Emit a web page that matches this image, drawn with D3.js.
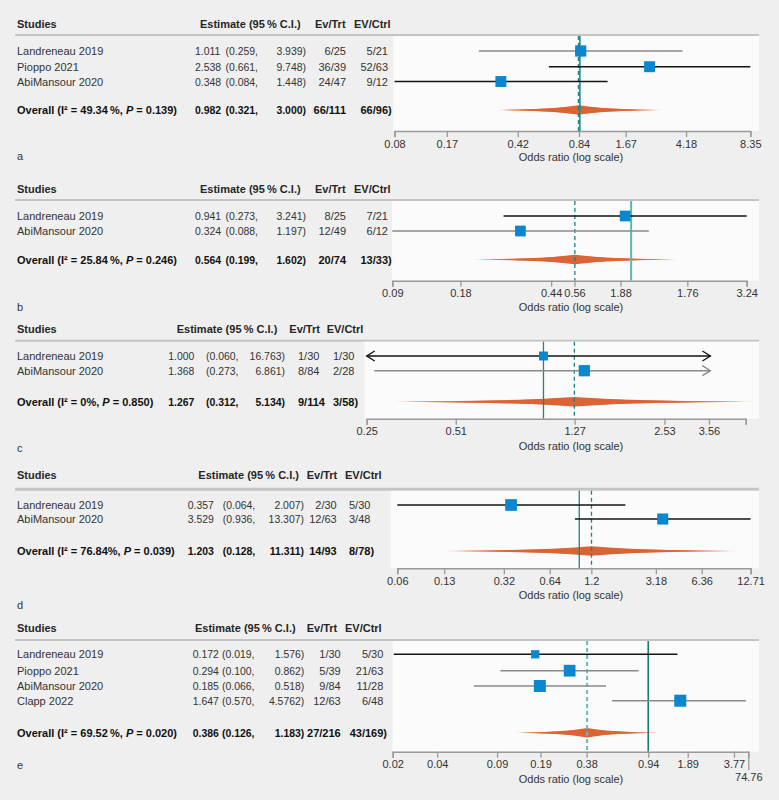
<!DOCTYPE html>
<html><head><meta charset="utf-8">
<script src="https://cdn.jsdelivr.net/npm/d3@7"></script>
<style>
html,body{margin:0;padding:0;background:#efefef;}
svg{display:block;}
text{font-family:"Liberation Sans",Arial,sans-serif;}
</style></head><body>
<svg id="chart" width="779" height="800"></svg>
<script>
// ================= DATA =================
const panelIds = ["a", "b", "c", "d", "e"];

// Panel a
const studiesA = ["Landreneau 2019", "Pioppo 2021", "AbiMansour 2020"];
const estA = [1.011, 2.538, 0.348];
const loA = [0.259, 0.661, 0.084];
const hiA = [3.939, 9.748, 1.448];
const evTrtA = ["6/25", "36/39", "24/47"];
const evCtrlA = ["5/21", "52/63", "9/12"];
const weightA = [35, 33, 33];
const domainA = [0.084, 9.748];
const tickValsA = [0.084, 0.169, 0.436, 0.988, 1.844, 4.13, 9.748];
const tickLabelsA = ["0.08", "0.17", "0.42", "0.84", "1.67", "4.18", "8.35"];

// Panel b
const studiesB = ["Landreneau 2019", "AbiMansour 2020"];
const estB = [0.941, 0.324];
const loB = [0.273, 0.088];
const hiB = [3.241, 1.197];
const evTrtB = ["8/25", "12/49"];
const evCtrlB = ["7/21", "6/12"];
const weightB = [32, 32];
const domainB = [0.088, 3.241];
const tickValsB = [0.088, 0.176, 0.443, 0.562, 0.898, 1.771, 3.241];
const tickLabelsB = ["0.09", "0.18", "0.44", "0.56", "1.88", "1.76", "3.24"];

// Panel c
const studiesC = ["Landreneau 2019", "AbiMansour 2020"];
const estC = [1.000, 1.368];
const loC = [0.060, 0.273];
const hiC = [16.763, 6.861];
const evTrtC = ["1/30", "8/84"];
const evCtrlC = ["1/30", "2/28"];
const weightC = [22, 35];
const domainC = [0.2575, 4.72];
const clipC = [0.2575, 3.6];
const tickValsC = [0.2575, 0.51, 1.27, 2.53, 3.56, 4.72];
const tickLabelsC = ["0.25", "0.51", "1.27", "2.53", "3.56", ""];

// Panel d
const studiesD = ["Landreneau 2019", "AbiMansour 2020"];
const estD = [0.357, 3.529];
const loD = [0.064, 0.936];
const hiD = [2.007, 13.307];
const evTrtD = ["2/30", "12/63"];
const evCtrlD = ["5/30", "3/48"];
const weightD = [38, 34];
const domainD = [0.064, 13.307];
const tickValsD = [0.064, 0.13, 0.32, 0.64, 1.2, 3.18, 6.36, 13.307];
const tickLabelsD = ["0.06", "0.13", "0.32", "0.64", "1.2", "3.18", "6.36", "12.71"];

// Panel e
const studiesE = ["Landreneau 2019", "Pioppo 2021", "AbiMansour 2020", "Clapp 2022"];
const estE = [0.172, 0.294, 0.185, 1.647];
const loE = [0.019, 0.100, 0.066, 0.570];
const hiE = [1.576, 0.862, 0.518, 4.5762];
const evTrtE = ["1/30", "5/39", "9/84", "12/63"];
const evCtrlE = ["5/30", "21/63", "11/28", "6/48"];
const weightE = [19, 38, 40, 40];
const domainE = [0.0187, 4.75];
const tickValsE = [0.0187, 0.0374, 0.095, 0.187, 0.383, 1.0, 1.849, 3.80, 4.75];
const tickLabelsE = ["0.02", "0.04", "0.09", "0.19", "0.38", "0.94", "1.89", "3.77", "74.76"];

// Overall rows (a..e)
const overallI2 = ["49.34\u2009%", "25.84\u2009%", "0%", "76.84%", "69.52\u2009%"];
const overallP = ["0.139", "0.246", "0.850", "0.039", "0.020"];
const overallEst = [0.982, 0.564, 1.267, 1.203, 0.386];
const overallLo = [0.321, 0.199, 0.312, 0.128, 0.126];
const overallHi = [3.000, 1.602, 5.134, 11.311, 1.183];
const overallEvTrt = ["66/111", "20/74", "9/114", "14/93", "27/216"];
const overallEvCtrl = ["66/96", "13/33", "3/58", "8/78", "43/169"];

// ================= LAYOUT / STYLE =================
const layout = {
  a: {head:24, line:35, lineW:2, rows:[51,66.7,81.5], overall:110, axis:131, titleY:157, letterY:156, plotX0:393.3, range:[394.5,750.3],
      est:195, lo:225.5, hi:306, trt:[346,"end"], ctrl:[388,"end"], hEst:200, hTrt:315, hCtrl:354,
      ciTone:["g","k","k"], solid:{c:"#1b8f8f",w:1.6}, dash:{c:"#1b8585",w:1.5}},
  b: {head:189.3, line:200, lineW:2, rows:[216,231], overall:259.5, axis:280.7, titleY:306.7, letterY:307, plotX0:392, range:[392.3,746.7],
      est:195, lo:225.5, hi:306, trt:[346,"end"], ctrl:[388,"end"], hEst:200, hTrt:315, hCtrl:354,
      ciTone:["k","g"], solid:{c:"#5ab7b7",w:2}, dash:{c:"#1b8585",w:1.3}},
  c: {head:329.3, line:340.7, lineW:2, rows:[356,370.7], overall:401.7, axis:418.7, titleY:445.7, letterY:447.7, plotX0:364.3, range:[366.7,745.7],
      est:168.3, lo:206, hi:285, trt:[298,"start"], ctrl:[333,"start"], hEst:176.7, hTrt:289.3, hCtrl:326.7,
      ciTone:["k","g"], solid:{c:"#1b8585",w:1.3}, dash:{c:"#1b8585",w:1.3}},
  d: {head:475, line:489.3, lineW:3, rows:[505,519], overall:551, axis:568.3, titleY:595, letterY:605, plotX0:390.7, range:[397.3,750.6],
      est:187.7, lo:222.7, hi:304, trt:[336.7,"end"], ctrl:[349,"start"], hEst:198.3, hTrt:306.7, hCtrl:345,
      ciTone:["k","k"], solid:{c:"#1b8585",w:1.3}, dash:{c:"#1b8585",w:1.3}},
  e: {head:628.3, line:640, lineW:2, rows:[654.3,670.7,686,700.7], overall:732.7, axis:751.7, titleY:779.3, letterY:765, plotX0:392.7, range:[392.7,748.3],
      est:192.7, lo:222, hi:304.3, trt:[340.7,"end"], ctrl:[383.3,"end"], hEst:195, hTrt:306.7, hCtrl:345,
      ciTone:["k","g","g","g"], solid:{c:"#137b7b",w:1.6}, dash:{c:"#62bfbf",w:2}, lastLabelDrop:12.5}
};

const panelData = {
  a:{studies:studiesA, est:estA, lo:loA, hi:hiA, trt:evTrtA, ctrl:evCtrlA, w:weightA, domain:domainA, ticks:tickValsA, labels:tickLabelsA},
  b:{studies:studiesB, est:estB, lo:loB, hi:hiB, trt:evTrtB, ctrl:evCtrlB, w:weightB, domain:domainB, ticks:tickValsB, labels:tickLabelsB},
  c:{studies:studiesC, est:estC, lo:loC, hi:hiC, trt:evTrtC, ctrl:evCtrlC, w:weightC, domain:domainC, clip:clipC, ticks:tickValsC, labels:tickLabelsC},
  d:{studies:studiesD, est:estD, lo:loD, hi:hiD, trt:evTrtD, ctrl:evCtrlD, w:weightD, domain:domainD, ticks:tickValsD, labels:tickLabelsD},
  e:{studies:studiesE, est:estE, lo:loE, hi:hiE, trt:evTrtE, ctrl:evCtrlE, w:weightE, domain:domainE, ticks:tickValsE, labels:tickLabelsE}
};

const FS = 11;
const NUM_SX = 0.95; // slight horizontal compaction of numeric columns
const sizeScale = d3.scaleSqrt().domain([0, 100]).range([0, 19]);
const fmt = v => { const s = v.toFixed(3); return (+s === v) ? s : String(v); };
const toneColor = {k:"#141414", g:"#8a8a8a"};

const svg = d3.select("#chart");
svg.append("rect").attr("width",779).attr("height",800).attr("fill","#efefef");

panelIds.forEach((id, pi) => {
  const L = layout[id], D = panelData[id];
  const g = svg.append("g");
  const bY = 4; // baseline offset from centre

  // header
  g.append("line").attr("x1",15).attr("x2",759).attr("y1",L.line).attr("y2",L.line)
    .attr("stroke","#c4c4c4").attr("stroke-width",L.lineW);
  const hdr = [["Studies",17],["Estimate (95\u2009% C.I.)",L.hEst],["Ev/Trt",L.hTrt],["EV/Ctrl",L.hCtrl]];
  hdr.forEach(([t,x]) => g.append("text").attr("x",x).attr("y",L.head+bY).attr("font-size",FS)
     .attr("font-weight","bold").attr("fill","#262626").text(t));

  // plot background
  g.append("rect").attr("x",L.plotX0).attr("y",L.line+L.lineW/2).attr("width",759-L.plotX0)
    .attr("height",L.axis-(L.line+L.lineW/2)).attr("fill","#fbfbfb");

  const x = d3.scaleLog().domain(D.domain).range(L.range);
  const clip = D.clip || D.domain;

  // text rows
  const rowText = (y, bold, name, est, lo, hi, trt, ctrl, isOverall) => {
    const fw = bold ? "bold" : "normal", col = bold ? "#111" : "#333";
    const t = (xx, s, anchor) => g.append("text").attr("x",xx).attr("y",y+bY).attr("font-size",FS)
       .attr("font-weight",fw).attr("fill",col).attr("text-anchor",anchor||"start").text(s);
    const tn = (xx, s, anchor) => g.append("text").attr("transform",`translate(${xx},${y+bY}) scale(${NUM_SX},1)`)
       .attr("font-size",FS).attr("font-weight",fw).attr("fill",col).attr("text-anchor",anchor||"start").text(s);
    if (typeof name === "string") t(17, name);
    else {
      const nt = g.append("text").attr("x",17).attr("y",y+bY).attr("font-size",FS).attr("font-weight",fw).attr("fill",col);
      nt.append("tspan").text("Overall (I\u00b2 = " + name[0] + ", ");
      nt.append("tspan").attr("font-style","italic").text("P");
      nt.append("tspan").text(" = " + name[1] + ")");
    }
    tn(L.est, fmt(est));
    tn(L.lo, "(" + fmt(lo) + ",");
    tn(L.hi, fmt(hi) + ")", "end");
    t(L.trt[0], trt, L.trt[1]);
    if (L.ctrl[1] === "end") {
      t(L.ctrl[0], ctrl, "end");
      if (isOverall) t(L.ctrl[0], ")");
    } else {
      t(L.ctrl[0], ctrl + (isOverall ? ")" : ""));
    }
  };
  D.studies.forEach((s,i) => rowText(L.rows[i], false, s, D.est[i], D.lo[i], D.hi[i], D.trt[i], D.ctrl[i], false));
  rowText(L.overall, true, [overallI2[pi], overallP[pi]], overallEst[pi], overallLo[pi], overallHi[pi],
          overallEvTrt[pi], overallEvCtrl[pi], true);

  // overall diamond (layered)
  const oe = overallEst[pi], ol = overallLo[pi], oh = overallHi[pi];
  const le = Math.log(oe), ll = Math.log(ol), lh = Math.log(oh);
  const layers = [{k:1, h:1.6, c:"#f0a383"}, {k:0.93, h:2.3, c:"#e17445"}, {k:0.72, h:3.4, c:"#dd6536"}, {k:0.45, h:4.7, c:"#dc6334"}];
  layers.forEach(Ly => {
    const xl = x(Math.exp(le - Ly.k*(le-ll))), xr = x(Math.exp(le + Ly.k*(lh-le))), xc = x(oe);
    g.append("polygon").attr("points", [[xl,L.overall],[xc,L.overall-Ly.h],[xr,L.overall],[xc,L.overall+Ly.h]].map(p=>p.join(",")).join(" "))
      .attr("fill", Ly.c);
  });

  // reference lines
  const top = L.line + L.lineW/2, bot = L.axis;
  g.append("line").attr("x1",x(1)).attr("x2",x(1)).attr("y1",top).attr("y2",bot)
    .attr("stroke",L.solid.c).attr("stroke-width",L.solid.w);
  g.append("line").attr("x1",x(oe)).attr("x2",x(oe)).attr("y1",top).attr("y2",bot)
    .attr("stroke",L.dash.c).attr("stroke-width",L.dash.w).attr("stroke-dasharray","4,3");

  // CI lines + squares
  D.studies.forEach((s,i) => {
    const y = L.rows[i], col = toneColor[L.ciTone[i]];
    const lo = Math.max(D.lo[i], clip[0]), hi = Math.min(D.hi[i], clip[1]);
    const x1 = x(lo), x2 = x(hi);
    g.append("line").attr("x1",x1).attr("x2",x2).attr("y1",y).attr("y2",y).attr("stroke",col).attr("stroke-width",1.5);
    if (D.lo[i] < clip[0]) g.append("polyline").attr("points",`${x1+8},${y-5} ${x1},${y} ${x1+8},${y+5}`)
        .attr("fill","none").attr("stroke",col).attr("stroke-width",1.4);
    if (D.hi[i] > clip[1]) g.append("polyline").attr("points",`${x2-8},${y-5} ${x2},${y} ${x2-8},${y+5}`)
        .attr("fill","none").attr("stroke",col).attr("stroke-width",1.4);
  });
  D.studies.forEach((s,i) => {
    const y = L.rows[i], sz = sizeScale(D.w[i]);
    g.append("rect").attr("x",x(D.est[i])-sz/2).attr("y",y-sz/2).attr("width",sz).attr("height",sz).attr("fill","#0b87d0");
  });

  // axis
  const ax = d3.axisBottom(x).tickValues(D.ticks).tickFormat((d,i)=>D.labels[i]).tickSize(6).tickSizeOuter(6);
  const ag = g.append("g").attr("transform",`translate(0,${L.axis})`).call(ax);
  ag.select(".domain").attr("stroke","#9a9a9a").attr("stroke-width",1.5);
  ag.selectAll(".tick line").attr("stroke","#9a9a9a").attr("stroke-width",1.3);
  ag.selectAll(".tick text").attr("font-size",FS).attr("fill","#333").attr("font-family","Liberation Sans, Arial, sans-serif");
  if (L.lastLabelDrop) {
    const n = D.ticks.length - 1;
    ag.selectAll(".tick").filter((d,i)=>i===n).select("text").attr("y", 9 + L.lastLabelDrop);
    ag.selectAll(".tick").filter((d,i)=>i===n).select("line").attr("y2", 6 + L.lastLabelDrop);
  }
  g.append("text").attr("x",571).attr("y",L.titleY+bY).attr("text-anchor","middle").attr("font-size",FS).attr("fill","#333")
    .text("Odds ratio (log scale)");
  g.append("text").attr("x",17).attr("y",L.letterY+bY).attr("font-size",FS).attr("fill","#333").text(id);
});
</script>
</body></html>
